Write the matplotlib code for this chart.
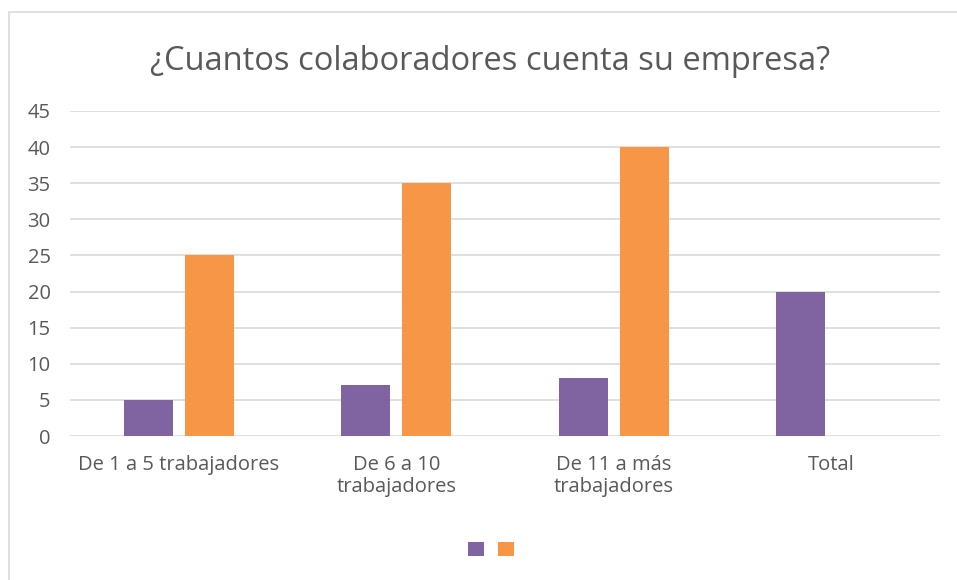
import matplotlib.pyplot as plt
import matplotlib.patches as mpatches
import numpy as np

plt.rcParams['font.family'] = ['Open Sans', 'DejaVu Sans']

categories = ['De 1 a 5 trabajadores', 'De 6 a 10\ntrabajadores',
              'De 11 a más\ntrabajadores', 'Total']
serie1 = [5, 7, 8, 20]
serie2 = [25, 35, 40, 0]
yticks = [0, 5, 10, 15, 20, 25, 30, 35, 40, 45]

purple = '#8064A2'
orange = '#F79646'
grey_txt = '#595959'
grid_c = '#D9D9D9'

fig = plt.figure(figsize=(9.57, 5.8), dpi=100)
# chart frame
fig.patches.append(mpatches.Rectangle((9 / 957, -0.05), 1.0, (580 - 12) / 580 + 0.05,
                                      transform=fig.transFigure, fill=False,
                                      edgecolor=grid_c, linewidth=1.2))

ax = fig.add_axes([70 / 957, (580 - 436) / 580, 870 / 957, 325 / 580])
x = np.arange(len(categories))
w = 0.225
off = 0.14
b1 = ax.bar(x - off, serie1, w, color=purple)
b2 = ax.bar(x + off, serie2, w, color=orange)

ax.set_xlim(-0.5, len(categories) - 0.5)
ax.set_ylim(0, 45)
ax.set_yticks(yticks)
ax.yaxis.grid(True, color=grid_c, linewidth=1.2)
ax.set_axisbelow(True)
for s in ax.spines.values():
    s.set_visible(False)
ax.tick_params(length=0, labelsize=14.5, labelcolor=grey_txt)
ax.tick_params(axis='y', pad=14)
ax.tick_params(axis='x', pad=14)
ax.set_xticks(x)
ax.set_xticklabels(categories, linespacing=1.1)

fig.text(490 / 957, 1 - 62 / 580, '¿Cuantos colaboradores cuenta su empresa?',
         ha='center', va='center', fontsize=23.5, color=grey_txt)

fig.legend([b1, b2], ['', ''], loc='center', bbox_to_anchor=(491 / 957, 1 - 550 / 580),
           ncol=2, frameon=False, handlelength=1.1, handleheight=1.1,
           handletextpad=0.0, columnspacing=1.05)

plt.savefig('out.png', dpi=100)
